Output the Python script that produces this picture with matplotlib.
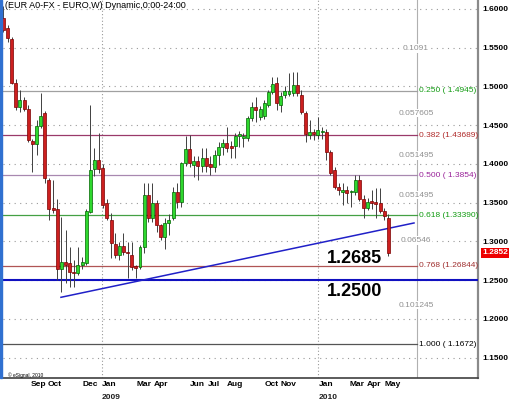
import numpy as np
import matplotlib
matplotlib.use("Agg")
import matplotlib.pyplot as plt
from matplotlib.patches import Rectangle

# weekly EUR/USD candles, Jul 2008 - May 2010
opens = [1.5880, 1.5755, 1.5613, 1.5045, 1.4735, 1.4826, 1.4710, 1.4297, 1.4258, 1.4490,
         1.4658, 1.3794, 1.3430, 1.3419, 1.2645, 1.2735, 1.2723, 1.2606, 1.2594, 1.2697,
         1.2723, 1.3380, 1.3935, 1.4052, 1.3948, 1.3497, 1.3277, 1.2968, 1.2826, 1.2942,
         1.2865, 1.2826, 1.2680, 1.2671, 1.2929, 1.3600, 1.3303, 1.3497, 1.3213, 1.3058,
         1.3239, 1.3303, 1.3639, 1.3510, 1.4013, 1.4193, 1.3987, 1.4039, 1.3974, 1.4077,
         1.4000, 1.3961, 1.4116, 1.4219, 1.4271, 1.4226, 1.4232, 1.4361, 1.4330, 1.4335,
         1.4594, 1.4735, 1.4606, 1.4619, 1.4761, 1.4929, 1.5045, 1.4761, 1.4890, 1.4903,
         1.4916, 1.5019, 1.4890, 1.4658, 1.4374, 1.4413, 1.4374, 1.4413, 1.4413, 1.4155,
         1.3923, 1.3703, 1.3640, 1.3660, 1.3640, 1.3639, 1.3794, 1.3548, 1.3432, 1.3520,
         1.3510, 1.3497, 1.3394, 1.3303]
highs = [1.6038, 1.5790, 1.5640, 1.5097, 1.4955, 1.4865, 1.4761, 1.4320, 1.4568, 1.4916,
         1.4680, 1.3820, 1.3794, 1.3548, 1.3316, 1.3148, 1.2929, 1.2761, 1.2929, 1.2800,
         1.3420, 1.4761, 1.4200, 1.4400, 1.4000, 1.3550, 1.3368, 1.3110, 1.2994, 1.3110,
         1.2994, 1.2994, 1.2700, 1.2960, 1.3755, 1.3755, 1.3755, 1.3530, 1.3230, 1.3300,
         1.3350, 1.3700, 1.3755, 1.4030, 1.4361, 1.4374, 1.4100, 1.4100, 1.4206, 1.4206,
         1.4100, 1.4180, 1.4290, 1.4320, 1.4477, 1.4300, 1.4400, 1.4430, 1.4400, 1.4620,
         1.4800, 1.4865, 1.4750, 1.4830, 1.4960, 1.5123, 1.5123, 1.4930, 1.5000, 1.5174,
         1.5187, 1.5187, 1.4950, 1.4680, 1.4568, 1.4450, 1.4606, 1.4480, 1.4450, 1.4180,
         1.3960, 1.3750, 1.3755, 1.3720, 1.3665, 1.3858, 1.3858, 1.3600, 1.3560, 1.3665,
         1.3690, 1.3690, 1.3432, 1.3355]
lows = [1.5700, 1.5574, 1.5030, 1.4697, 1.4671, 1.4684, 1.4284, 1.3897, 1.4116, 1.4470,
        1.3755, 1.3277, 1.3368, 1.2503, 1.2348, 1.2465, 1.2413, 1.2413, 1.2568, 1.2650,
        1.2700, 1.3370, 1.3850, 1.3880, 1.3430, 1.3277, 1.2787, 1.2787, 1.2761, 1.2826,
        1.2529, 1.2632, 1.2529, 1.2640, 1.2850, 1.3250, 1.3250, 1.3123, 1.3019, 1.2903,
        1.3084, 1.3280, 1.3432, 1.3450, 1.3980, 1.3960, 1.3832, 1.3794, 1.3900, 1.3897,
        1.3858, 1.3900, 1.3987, 1.4116, 1.4150, 1.4077, 1.4077, 1.4219, 1.4219, 1.4300,
        1.4560, 1.4542, 1.4568, 1.4580, 1.4730, 1.4900, 1.4697, 1.4671, 1.4850, 1.4880,
        1.4880, 1.4880, 1.4640, 1.4284, 1.4320, 1.4310, 1.4320, 1.4323, 1.4052, 1.3860,
        1.3680, 1.3600, 1.3471, 1.3500, 1.3445, 1.3600, 1.3520, 1.3303, 1.3400, 1.3420,
        1.3303, 1.3370, 1.3277, 1.2813]
closes = [1.5730, 1.5626, 1.5045, 1.4735, 1.4826, 1.4710, 1.4310, 1.4258, 1.4490, 1.4620,
          1.3819, 1.3419, 1.3400, 1.2645, 1.2735, 1.2700, 1.2606, 1.2594, 1.2697, 1.2735,
          1.3394, 1.3923, 1.4052, 1.3935, 1.3471, 1.3303, 1.2981, 1.2826, 1.2942, 1.2865,
          1.2852, 1.2671, 1.2658, 1.2929, 1.3600, 1.3303, 1.3497, 1.3213, 1.3058, 1.3239,
          1.3277, 1.3639, 1.3510, 1.4013, 1.4193, 1.4013, 1.4039, 1.3974, 1.4077, 1.3974,
          1.3961, 1.4116, 1.4219, 1.4271, 1.4206, 1.4206, 1.4361, 1.4387, 1.4361, 1.4594,
          1.4735, 1.4697, 1.4710, 1.4787, 1.4929, 1.5032, 1.4787, 1.4877, 1.4942, 1.4942,
          1.5019, 1.4916, 1.4671, 1.4387, 1.4413, 1.4387, 1.4439, 1.4426, 1.4155, 1.3884,
          1.3703, 1.3665, 1.3660, 1.3630, 1.3650, 1.3794, 1.3548, 1.3432, 1.3510, 1.3500,
          1.3490, 1.3394, 1.3329, 1.2852]

month_labels = ['Sep', 'Oct', 'Dec', 'Jan', 'Mar', 'Apr', 'Jun', 'Jul', 'Aug',
                'Oct', 'Nov', 'Jan', 'Mar', 'Apr', 'May']
month_pos = [6.7, 10.8, 19.1, 23.8, 32.2, 36.4, 45.1, 49.5, 54.0,
             63.0, 67.0, 76.1, 83.7, 87.9, 92.0]
year_labels = ['2009', '2010']
year_pos = [23.8, 76.1]

# fibonacci retracement levels
fib_ratio = ['0.250', '0.382', '0.500', '0.618', '0.768', '1.000']
fib_value = [1.4945, 1.43689, 1.3854, 1.3339, 1.26844, 1.1672]
fib_text = ['0.250 ( 1.4945)', '0.382 (1.43689)', '0.500 ( 1.3854)',
            '0.618 (1.33390)', '0.768 (1.26844)', '1.000 ( 1.1672)']
fib_top = 1.6036
fib_gaps = ['0.1091', '0.057605', '0.051495', '0.051495', '0.06546', '0.101245']

trend_x = [13.9, 99.2]
trend_y = [1.2280, 1.3239]
support = 1.2500
last_price = 1.2852

fib_line_col = ['#a0a0a0', '#9a3a6a', '#a888b0', '#44a044', '#b05555', '#555555']
fib_text_col = ['#109a10', '#b02a2a', '#992299', '#109a10', '#a03030', '#000000']

sans = 'Liberation Sans'

fig = plt.figure(figsize=(5.10, 4.05), dpi=100)
ax = fig.add_axes([3 / 510, 27 / 405, 475 / 510, 378 / 405])
ax.set_xlim(-0.1, 114.66)
ax.set_ylim(1.12387, 1.61161)

# dotted price grid
for lv in np.arange(1.15, 1.6001, 0.05):
    ax.axhline(lv, color='#999999', lw=0.8, ls=(0, (1, 4)), zorder=1)
for xv in year_pos:
    ax.axvline(xv, color='#999999', lw=0.8, ls=(0, (1, 2)), zorder=1)

fib_x = 99.9
ax.axvline(fib_x, color='#b0b0b0', lw=0.8, zorder=1)
for lv, col in zip(fib_value, fib_line_col):
    ax.plot([-0.1, fib_x], [lv, lv], color=col, lw=0.9, zorder=2)
for lv, t, col in zip(fib_value, fib_text, fib_text_col):
    ax.text(fib_x + 0.4, lv, t, color=col, fontsize=6, family=sans,
            ha='left', va='center', zorder=5)
prev = [fib_top] + fib_value[:-1]
for a, b, t in zip(prev, fib_value, fib_gaps):
    ax.text(fib_x - 0.2, (a + b) / 2, t, color='#909090', fontsize=6, family=sans,
            ha='center', va='center', zorder=5,
            bbox=dict(facecolor='white', edgecolor='none', pad=0.5))

# support and trend line
ax.axhline(support, color='#1010c0', lw=1.5, zorder=3)
ax.plot(trend_x, trend_y, color='#2020c8', lw=1.1, zorder=3)

# candles
x = np.arange(len(opens))
o = np.array(opens); c = np.array(closes)
up = c >= o
ax.vlines(x, lows, highs, color='#404040', lw=0.7, zorder=4)
body = np.maximum(np.abs(c - o), 0.0008)
ax.bar(x[up], body[up], bottom=o[up], width=0.72, color='#2ed82e',
       edgecolor='#006400', lw=0.5, zorder=5)
ax.bar(x[~up], body[~up], bottom=c[~up], width=0.72, color='#cc1f1f',
       edgecolor='#7a0000', lw=0.5, zorder=5)

ax.text(84.8, 1.2787, '1.2685', fontsize=13, fontweight='bold', family=sans,
        ha='center', va='center', zorder=6)
ax.text(84.8, 1.2355, '1.2500', fontsize=13, fontweight='bold', family=sans,
        ha='center', va='center', zorder=6)

ax.text(0.3, 1.6050, '(EUR A0-FX - EURO,W) Dynamic,0:00-24:00', fontsize=6.5,
        family=sans, ha='left', va='center', zorder=6)
ax.text(1.0, 1.1275, '\u00a9 eSignal, 2010', fontsize=3.5, family=sans,
        ha='left', va='center', zorder=6)

# axes styling
for s in ['top', 'left']:
    ax.spines[s].set_visible(False)
ax.spines['right'].set_color('#8a8a8a')
ax.spines['right'].set_linewidth(1.6)
ax.spines['bottom'].set_color('#404040')
ax.spines['bottom'].set_linewidth(1.2)
ax.yaxis.tick_right()
ax.set_yticks(np.arange(1.15, 1.6001, 0.05))
ax.set_yticklabels(['%.4f' % v for v in np.arange(1.15, 1.6001, 0.05)],
                   fontsize=6, fontweight='bold', family=sans)
ax.tick_params(axis='y', length=0, pad=3)
ax.set_xticks([])

for lab, p in zip(month_labels, month_pos):
    ax.annotate(lab, xy=(p, 0), xycoords=('data', 'axes fraction'), xytext=(0, -2.5),
                textcoords='offset points', fontsize=6, fontweight='bold',
                family=sans, ha='left', va='top')
for lab, p in zip(year_labels, year_pos):
    ax.annotate(lab, xy=(p, 0), xycoords=('data', 'axes fraction'), xytext=(0, -11.5),
                textcoords='offset points', fontsize=6, fontweight='bold',
                family=sans, ha='left', va='top', color='#202020')

ax.annotate('%.4f' % last_price, xy=(1, last_price), xycoords=('axes fraction', 'data'),
            xytext=(3, 0), textcoords='offset points', fontsize=6, fontweight='bold',
            family=sans, color='white', ha='left', va='center',
            bbox=dict(facecolor='#ee0000', edgecolor='none', pad=0.8))

# blue strip on the left edge
fig.patches.append(Rectangle((0, 27 / 405), 2.5 / 510, 378 / 405,
                             transform=fig.transFigure, color='#3070d0'))

fig.savefig('out.png', dpi=100)
